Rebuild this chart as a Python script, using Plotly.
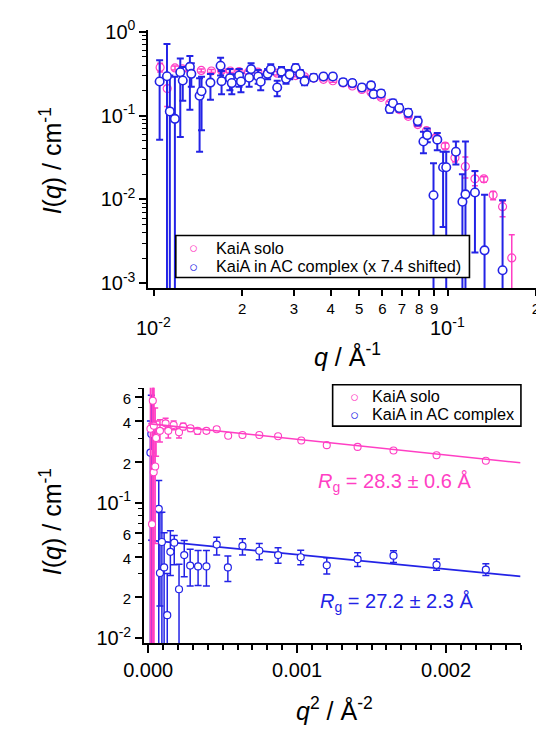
import plotly.graph_objects as go

# ---------------- data: top panel (log q vs log I) ----------------
q_solo = [0.0105, 0.0111, 0.0118, 0.0125, 0.0133, 0.0145, 0.0157, 0.0170, 0.0182, 0.0195,
          0.0210, 0.0226, 0.0244, 0.0263, 0.0283, 0.0304, 0.0326, 0.0350, 0.0378, 0.0407,
          0.0441, 0.0474, 0.0511, 0.0549, 0.0594, 0.0636, 0.0685, 0.0735, 0.0792, 0.0848,
          0.0914, 0.0982, 0.1060, 0.1150, 0.1240, 0.1330, 0.1430, 0.1540, 0.1655]
I_solo = [0.375, 0.21, 0.37, 0.36, 0.35, 0.345, 0.34, 0.345, 0.34, 0.335,
          0.33, 0.33, 0.325, 0.32, 0.31, 0.30, 0.29, 0.28, 0.27, 0.26,
          0.245, 0.225, 0.205, 0.19, 0.165, 0.14, 0.118, 0.098, 0.078, 0.066,
          0.055, 0.0433, 0.0313, 0.0247, 0.0176, 0.0176, 0.0113, 0.0082, 0.00201]
lo_solo = [0.33, 0.128, 0.35, 0.34, 0.33, 0.33, 0.325, 0.33, 0.325, 0.32,
           0.315, 0.315, 0.31, 0.305, 0.295, 0.29, 0.28, 0.27, 0.26, 0.25,
           0.236, 0.216, 0.197, 0.182, 0.158, 0.134, 0.112, 0.093, 0.074, 0.062,
           0.051, 0.040, 0.028, 0.018, 0.0146, 0.016, 0.0099, 0.0062, 0.0001]
hi_solo = [0.42, 0.30, 0.39, 0.38, 0.37, 0.36, 0.355, 0.36, 0.355, 0.35,
           0.345, 0.345, 0.34, 0.335, 0.325, 0.31, 0.30, 0.29, 0.28, 0.27,
           0.254, 0.234, 0.213, 0.198, 0.172, 0.146, 0.124, 0.103, 0.082, 0.070,
           0.059, 0.047, 0.035, 0.032, 0.0215, 0.0186, 0.0124, 0.0095, 0.0038]

q_cplx = [0.01046, 0.01108, 0.01133, 0.01179, 0.0123, 0.01254, 0.01326, 0.01341, 0.01431, 0.01453,
          0.01558, 0.01687, 0.0170, 0.01815, 0.01842, 0.0195, 0.01979, 0.02111, 0.02143, 0.02265,
          0.02311, 0.0244, 0.0250, 0.0263, 0.0272, 0.02818, 0.0290, 0.0304, 0.0315, 0.0326,
          0.0350, 0.0378, 0.0407, 0.0441, 0.0474, 0.0511, 0.0549, 0.0560, 0.0594, 0.0636,
          0.0652, 0.0685, 0.0735, 0.0792, 0.0828, 0.0853, 0.0896, 0.0923, 0.0966, 0.0990,
          0.1068, 0.1124, 0.1151, 0.1240, 0.1337, 0.1540]
I_cplx = [0.255, 0.294, 0.112, 0.0914, 0.328, 0.262, 0.381, 0.314, 0.172, 0.195,
          0.247, 0.392, 0.257, 0.279, 0.244, 0.30, 0.255, 0.282, 0.358, 0.292,
          0.253, 0.314, 0.358, 0.216, 0.334, 0.274, 0.308, 0.368, 0.314, 0.257,
          0.282, 0.292, 0.292, 0.25, 0.244, 0.216, 0.229, 0.18, 0.183, 0.12,
          0.14, 0.123, 0.108, 0.0859, 0.049, 0.0585, 0.0112, 0.0516, 0.0242, 0.0242,
          0.037, 0.0094, 0.0115, 0.0121, 0.00247, 0.00143]
lo_cplx = [0.0515, 0.0001, 0.0001, 0.0001, 0.0556, 0.15, 0.117, 0.22, 0.037, 0.067,
           0.154, 0.30, 0.18, 0.20, 0.18, 0.22, 0.19, 0.22, 0.29, 0.24,
           0.20, 0.27, 0.31, 0.17, 0.29, 0.24, 0.27, 0.33, 0.28, 0.23,
           0.26, 0.27, 0.27, 0.23, 0.225, 0.20, 0.21, 0.165, 0.168, 0.108,
           0.127, 0.111, 0.097, 0.076, 0.0355, 0.048, 0.0001, 0.0385, 0.0047, 0.0001,
           0.026, 0.0001, 0.0001, 0.00233, 0.0001, 0.0001]
hi_cplx = [0.456, 0.712, 0.30, 0.29, 0.48, 0.38, 0.512, 0.42, 0.279, 0.29,
           0.313, 0.49, 0.34, 0.36, 0.31, 0.36, 0.32, 0.34, 0.42, 0.35,
           0.31, 0.36, 0.41, 0.26, 0.38, 0.31, 0.35, 0.41, 0.35, 0.29,
           0.31, 0.315, 0.315, 0.27, 0.265, 0.235, 0.25, 0.196, 0.20, 0.134,
           0.154, 0.136, 0.12, 0.097, 0.064, 0.07, 0.027, 0.062, 0.037, 0.037,
           0.049, 0.02, 0.049, 0.0218, 0.0114, 0.0098]

# ---------------- data: bottom panel (Guinier plot) ----------------
q2_solo = [1.5e-5, 2.6e-5, 3.1e-5, 3.7e-5, 3.8e-5, 4.7e-5, 5.3e-5, 7.9e-5, 1.17e-4, 1.35e-4,
           1.71e-4, 2.07e-4, 2.35e-4, 2.84e-4, 3.31e-4, 3.91e-4, 4.6e-4, 5.37e-4, 6.33e-4, 7.46e-4,
           8.72e-4, 1.028e-3, 1.199e-3, 1.406e-3, 1.647e-3, 1.936e-3, 2.267e-3]
G_solo = [0.351, 0.0695, 0.566, 0.168, 0.370, 0.185, 0.30, 0.339, 0.385, 0.339,
          0.374, 0.331, 0.364, 0.354, 0.339, 0.339, 0.348, 0.312, 0.316, 0.316,
          0.309, 0.288, 0.266, 0.258, 0.243, 0.224, 0.204]
Glo_solo = [0.001, 0.001, 0.001, 0.001, 0.001, 0.05, 0.22, 0.28, 0.35, 0.30,
            0.345, 0.30, 0.345, 0.335, 0.32, 0.325, 0.335, 0.305, 0.309, 0.309,
            0.303, 0.283, 0.261, 0.253, 0.238, 0.22, 0.20]
Ghi_solo = [2.0, 2.0, 2.0, 2.0, 2.0, 0.5, 0.40, 0.41, 0.42, 0.37,
            0.40, 0.355, 0.385, 0.37, 0.355, 0.352, 0.36, 0.319, 0.323, 0.323,
            0.315, 0.293, 0.271, 0.263, 0.248, 0.228, 0.208]

q2_cplx = [1.5e-5, 2.1e-5, 7.1e-5, 7.9e-5, 9.2e-5, 1.07e-4, 1.28e-4, 1.49e-4, 1.75e-4, 2.07e-4,
           2.42e-4, 2.82e-4, 3.35e-4, 3.91e-4, 4.6e-4, 5.35e-4, 6.33e-4, 7.46e-4, 8.72e-4, 1.024e-3,
           1.199e-3, 1.406e-3, 1.647e-3, 1.936e-3, 2.267e-3]
G_cplx = [0.234, 0.321, 0.0901, 0.0303, 0.0513, 0.0333, 0.0148, 0.0434, 0.0507, 0.023,
          0.0411, 0.0344, 0.0339, 0.0339, 0.0491, 0.0333, 0.048, 0.0442, 0.0411, 0.0396,
          0.0345, 0.0383, 0.0407, 0.0348, 0.0321]
Glo_cplx = [0.001, 0.001, 0.001, 0.0173, 0.001, 0.001, 0.001, 0.029, 0.0348, 0.001,
            0.0284, 0.0243, 0.0245, 0.0243, 0.0411, 0.0262, 0.0411, 0.0379, 0.0358, 0.0348,
            0.0298, 0.0339, 0.0362, 0.0317, 0.029]
Ghi_cplx = [0.40, 0.62, 0.146, 0.0847, 0.085, 0.06, 0.03, 0.062, 0.0573, 0.0352,
            0.0527, 0.0454, 0.0445, 0.0445, 0.0557, 0.0404, 0.0542, 0.050, 0.0465, 0.0446,
            0.0393, 0.0427, 0.0442, 0.0385, 0.0354]

# Guinier fit lines (end points)
fit_q2 = [0.0, 0.0025]
fit_solo = [0.383, 0.197]
fit_cplx = [0.053, 0.0286]

tick_x_top = [0.01, 0.02, 0.03, 0.04, 0.05, 0.06, 0.07, 0.08, 0.09, 0.1, 0.2]
tick_x_top_text = ["", "2", "3", "4", "5", "6", "7", "8", "9", "", "2"]
decade_x_top = [-2, -1]          # log10 positions of the lower decade labels
decade_x_text = ["10<sup>-2</sup>", "10<sup>-1</sup>"]

legend_top = ["KaiA solo", "KaiA in AC complex (x 7.4 shifted)"]
legend_bottom = ["KaiA solo", "KaiA in AC complex"]

PINK = "#ff3fc4"
BLUE = "#2323e6"
FONT = "Liberation Sans, Arial, sans-serif"

# The page body keeps the browser's default 8 px margin, so the figure is
# made 8 px smaller and every position is expressed in window pixels minus 8.
OFF = 8
W, H = 544 - OFF, 733 - OFF


def px(X):
    return (X - OFF) / W


def py(Y):
    return 1 - (Y - OFF) / H


def minus(v, lo):
    return [a - b for a, b in zip(v, lo)]


def plus(v, hi):
    return [b - a for a, b in zip(v, hi)]


fig = go.Figure()

# --- top panel
fig.add_trace(go.Scatter(
    x=q_solo, y=I_solo, mode="markers", name=legend_top[0], showlegend=False,
    marker=dict(symbol="circle-open", size=8, color=PINK, line=dict(width=1.2, color=PINK)),
    error_y=dict(type="data", array=plus(I_solo, hi_solo), arrayminus=minus(I_solo, lo_solo),
                 color=PINK, thickness=1.5, width=3),
    xaxis="x", yaxis="y"))
fig.add_trace(go.Scatter(
    x=q_cplx, y=I_cplx, mode="markers", name=legend_top[1], showlegend=False,
    marker=dict(symbol="circle", size=8.5, color="white", line=dict(width=1.6, color=BLUE)),
    error_y=dict(type="data", array=plus(I_cplx, hi_cplx), arrayminus=minus(I_cplx, lo_cplx),
                 color=BLUE, thickness=2, width=3.5),
    xaxis="x", yaxis="y"))

# --- bottom panel
fig.add_trace(go.Scatter(
    x=fit_q2, y=fit_cplx, mode="lines", showlegend=False,
    line=dict(color=BLUE, width=1.6), xaxis="x2", yaxis="y2"))
fig.add_trace(go.Scatter(
    x=q2_cplx, y=G_cplx, mode="markers", name=legend_bottom[1], showlegend=False,
    marker=dict(symbol="circle", size=7, color="white", line=dict(width=1.2, color=BLUE)),
    error_y=dict(type="data", array=plus(G_cplx, Ghi_cplx), arrayminus=minus(G_cplx, Glo_cplx),
                 color=BLUE, thickness=1.5, width=3.5),
    xaxis="x2", yaxis="y2"))
fig.add_trace(go.Scatter(
    x=q2_solo, y=G_solo, mode="markers", name=legend_bottom[0], showlegend=False,
    marker=dict(symbol="circle", size=7, color="white", line=dict(width=1.1, color=PINK)),
    error_y=dict(type="data", array=plus(G_solo, Ghi_solo), arrayminus=minus(G_solo, Glo_solo),
                 color=PINK, thickness=1.5, width=3),
    xaxis="x2", yaxis="y2"))
fig.add_trace(go.Scatter(
    x=fit_q2, y=fit_solo, mode="lines", showlegend=False,
    line=dict(color=PINK, width=1.6), xaxis="x2", yaxis="y2"))

axis_common = dict(showline=True, linecolor="black", linewidth=1.5, ticks="outside",
                   tickcolor="black", tickwidth=1.5, showgrid=False, zeroline=False,
                   ticklabeloverflow="allow",
                   tickfont=dict(family=FONT, size=20, color="black"))

yt_minor = [m * 10 ** e for e in (-3, -2, -1) for m in range(2, 10)]
small = '<span style="font-size:15px">{}</span>'

fig.update_layout(
    width=W, height=H, margin=dict(l=0, r=0, t=0, b=0),
    paper_bgcolor="white", plot_bgcolor="white",
    font=dict(family=FONT, color="black"), showlegend=False,
    xaxis=dict(axis_common, type="log", domain=[px(133), px(540)], range=[-2.0195, -0.698],
               anchor="y", tickmode="array", tickvals=tick_x_top, ticktext=tick_x_top_text,
               ticklen=6, tickfont=dict(family=FONT, size=15, color="black")),
    yaxis=dict(axis_common, type="log", domain=[py(283), py(18)], range=[-3.058, 0.023],
               anchor="x", tickmode="array", tickvals=[0.001, 0.01, 0.1, 1],
               ticktext=["10<sup>-3</sup>", "10<sup>-2</sup>", "10<sup>-1</sup>", "10<sup>0</sup>"],
               ticklen=7,
               minor=dict(tickmode="array", tickvals=yt_minor, ticklen=4, ticks="outside",
                          tickwidth=1.2, tickcolor="black")),
    xaxis2=dict(axis_common, domain=[px(128.5), px(523.6)], range=[-0.0000289, 0.0025],
                anchor="y2", tickmode="array", tickvals=[0, 0.001, 0.002],
                ticktext=["0.000", "0.001", "0.002"], ticklen=8,
                minor=dict(dtick=0.0001, tick0=0, ticklen=5, ticks="outside", tickwidth=1.5,
                           tickcolor="black")),
    yaxis2=dict(axis_common, type="log", domain=[py(647), py(385)], range=[-2.036, -0.151],
                anchor="x2", tickmode="array",
                tickvals=[0.01, 0.02, 0.04, 0.06, 0.1, 0.2, 0.4, 0.6],
                ticktext=["10<sup>-2</sup>", small.format("2"), small.format("4"), small.format("6"),
                          "10<sup>-1</sup>", small.format("2"), small.format("4"), small.format("6")],
                ticklen=7,
                minor=dict(tickmode="array", tickvals=[0.03, 0.05, 0.07, 0.08, 0.09, 0.3, 0.5, 0.7],
                           ticklen=4, ticks="outside", tickwidth=1.2, tickcolor="black")),
)


def label(X, Y, text, size, color="black", angle=0, xanchor="center"):
    return dict(x=px(X), y=py(Y), xref="paper", yref="paper", showarrow=False, text=text,
                textangle=angle, xanchor=xanchor, yanchor="middle",
                font=dict(family=FONT, size=size, color=color))


ann = []
shapes = []
# decade labels under the top x axis (log axis -> annotation x in log10 units)
for val, txt in zip(decade_x_top, decade_x_text):
    ann.append(dict(x=val, xref="x", y=py(322), yref="paper", text=txt, showarrow=False,
                    font=dict(family=FONT, size=20, color="black"), xanchor="center", yanchor="middle"))
# axis titles
ann.append(label(342, 352, "<i>q</i> / Å<sup>-1</sup>", 25))
ann.append(label(328, 715, "<i>q</i><sup>2</sup> / Å<sup>-2</sup>", 25))
ann.append(label(31, 152, "<i>I</i>(<i>q</i>) / cm<sup>-1</sup>", 25, angle=-90))
ann.append(label(31, 522, "<i>I</i>(<i>q</i>) / cm<sup>-1</sup>", 25, angle=-90))
# Rg labels
ann.append(label(391, 482, "<i>R</i><sub>g</sub> = 28.3 ± 0.6 Å", 20, PINK))
ann.append(label(393, 605, "<i>R</i><sub>g</sub> = 27.2 ± 2.3 Å", 20, BLUE))

# legend boxes (box, symbol column, text column, row centres)
for (x0, y0, x1, y1, xs, xt, rows, names) in (
        (162, 229, 470, 272, 181, 202, (241.5, 260.5), legend_top),
        (326.5, 382, 524, 424.5, 349, 366, (394, 412.5), legend_bottom)):
    shapes.append(dict(type="rect", xref="paper", yref="paper",
                       x0=px(x0), x1=px(x1), y0=py(y1), y1=py(y0),
                       line=dict(color="black", width=1.6), fillcolor="white", layer="above"))
    for yr, name, col in zip(rows, names, (PINK, BLUE)):
        ann.append(label(xs, yr, "○", 15, col))
        ann.append(label(xt, yr, name, 16.3, "black", xanchor="left"))

fig.update_layout(annotations=ann, shapes=shapes)

fig.write_html("out.html")
